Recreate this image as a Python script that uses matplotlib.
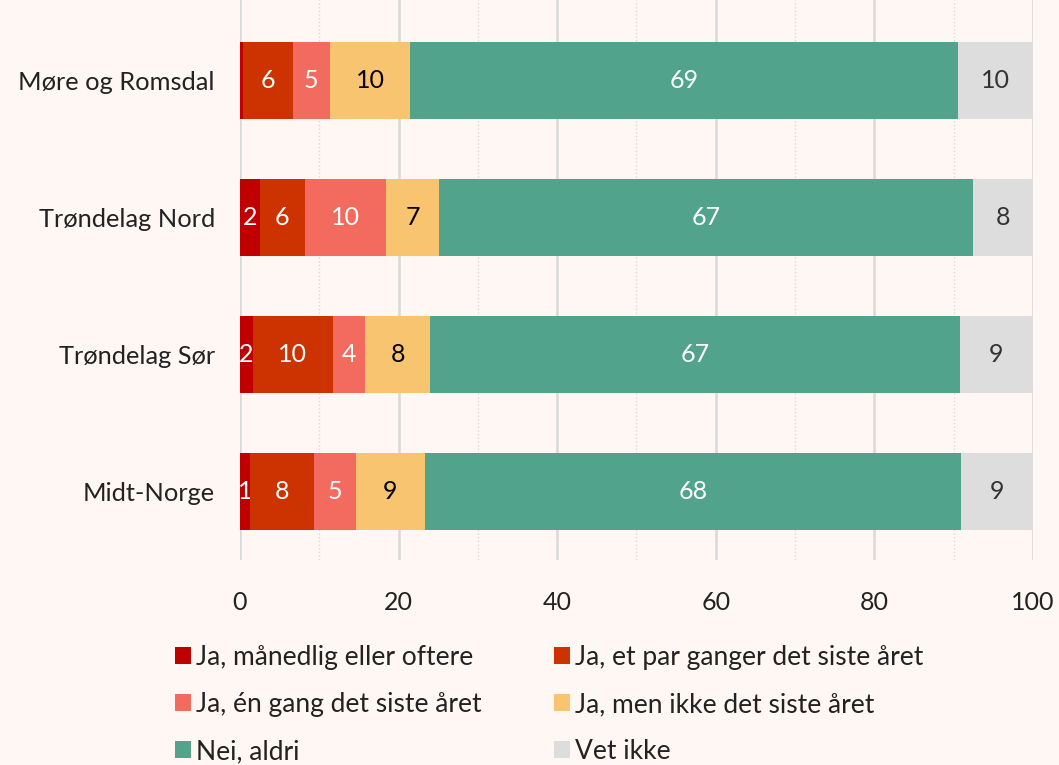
import matplotlib.pyplot as plt
import numpy as np
from matplotlib.patches import Patch

plt.rcParams['font.family'] = ['Lato', 'DejaVu Sans']

# Data (percent), bottom-to-top order of regions
regions = ['Midt-Norge', 'Trøndelag Sør', 'Trøndelag Nord', 'Møre og Romsdal']
series = ['Ja, månedlig eller oftere', 'Ja, et par ganger det siste året',
          'Ja, én gang det siste året', 'Ja, men ikke det siste året',
          'Nei, aldri', 'Vet ikke']
manedlig = [1.3, 1.6, 2.5, 0.4]
par_ganger = [8.0, 10.1, 5.7, 6.3]
en_gang = [5.3, 4.1, 10.2, 4.6]
ikke_siste = [8.7, 8.2, 6.7, 10.2]
aldri = [67.6, 66.8, 67.3, 69.0]
vet_ikke = [9.1, 9.2, 7.6, 9.5]

values = [manedlig, par_ganger, en_gang, ikke_siste, aldri, vet_ikke]
colors = ['#C00000', '#CC3300', '#F26B5E', '#F9C46F', '#52A38B', '#DDDDDD']
text_colors = ['white', 'white', 'white', 'black', 'white', '#333333']

bg = '#FFF7F4'
fig = plt.figure(figsize=(10.59, 7.65), dpi=100, facecolor=bg)
ax = fig.add_axes([0.2266, 0.268, 0.7488, 0.732], facecolor=bg)

y = np.arange(len(regions))
left = np.zeros(len(regions))
for vals, col, tcol in zip(values, colors, text_colors):
    vals = np.array(vals)
    bars = ax.barh(y, vals, left=left, height=0.56, color=col, edgecolor='none', zorder=3)
    labels = [f'{v:.0f}' if v >= 0.5 else '' for v in vals]
    ax.bar_label(bars, labels=labels, label_type='center', color=tcol, fontsize=18)
    left += vals

ax.set_xlim(0, 100)
ax.set_ylim(-0.5, 3.59)
ax.set_yticks(y)
ax.set_yticklabels(regions, fontsize=18.3, color='#222222')
ax.set_xticks(np.arange(0, 101, 20))
ax.set_xticks(np.arange(10, 100, 20), minor=True)
ax.tick_params(axis='x', labelsize=18, colors='#222222', length=0, pad=22, which='both')
ax.tick_params(axis='y', length=0, pad=18)
ax.grid(axis='x', which='major', color='#D9D9D9', linewidth=1.8, zorder=0)
ax.grid(axis='x', which='minor', color='#D9D9D9', linewidth=1, linestyle=':', zorder=0)
for s in ax.spines.values():
    s.set_visible(False)

handles = [Patch(facecolor=c, label=s) for c, s in zip(colors, series)]
order = [0, 2, 4, 1, 3, 5]
fig.legend([handles[i] for i in order], [series[i] for i in order], ncol=2,
           loc='upper left', bbox_to_anchor=(0.153, 0.174), frameon=False,
           fontsize=19, labelcolor='#222222', handlelength=0.6, handleheight=0.6,
           handletextpad=0.2, columnspacing=2.72, labelspacing=0.83, borderpad=0)

fig.savefig('out.png', dpi=100, facecolor=bg)
